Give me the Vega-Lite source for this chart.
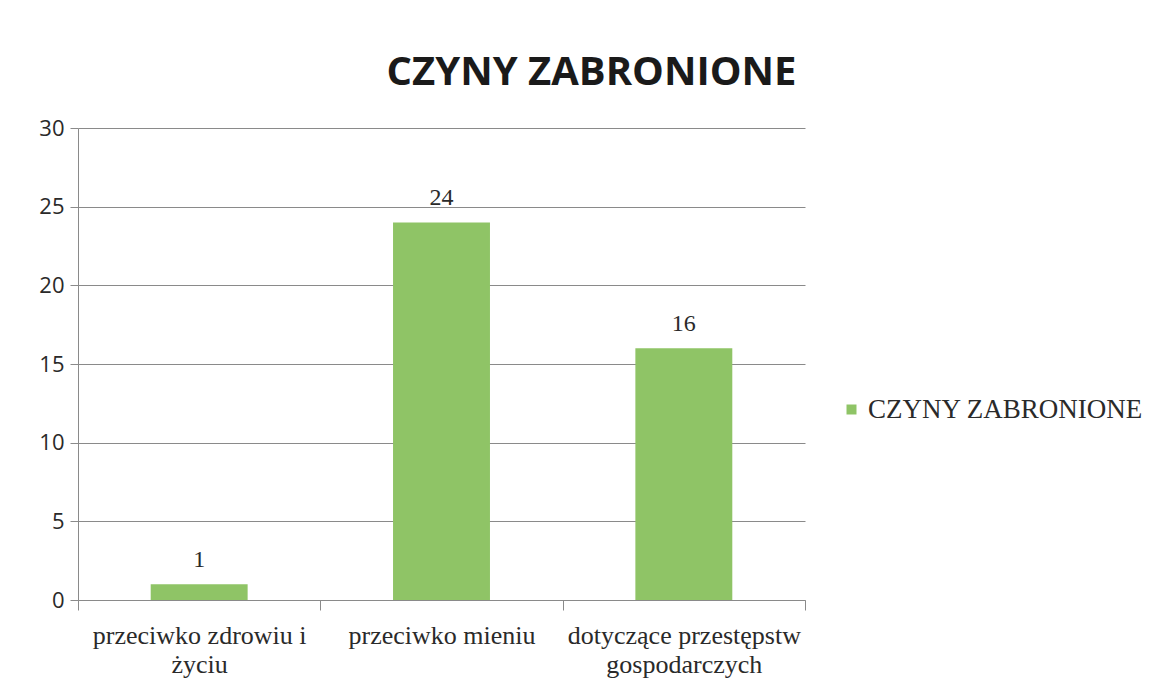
{
  "$schema": "https://vega.github.io/schema/vega-lite/v6.json",
  "autosize": {"type": "none"},
  "width": 727,
  "height": 472,
  "padding": {"left": 78, "top": 128, "right": 350, "bottom": 99},
  "background": "#ffffff",
  "title": {
    "text": "CZYNY ZABRONIONE",
    "font": "Open Sans",
    "fontSize": 40,
    "fontWeight": "bold",
    "color": "#1a1a1a",
    "anchor": "middle",
    "dx": 150,
    "offset": 24
  },
  "data": {
    "values": [
      {"kategoria": "przeciwko zdrowiu i|życiu", "seria": "CZYNY ZABRONIONE", "wartosc": 1},
      {"kategoria": "przeciwko mieniu", "seria": "CZYNY ZABRONIONE", "wartosc": 24},
      {"kategoria": "dotyczące przestępstw|gospodarczych", "seria": "CZYNY ZABRONIONE", "wartosc": 16}
    ]
  },
  "encoding": {
    "x": {
      "field": "kategoria",
      "type": "nominal",
      "sort": null,
      "title": null,
      "scale": {"paddingInner": 0, "paddingOuter": 0},
      "axis": {
        "labelExpr": "split(datum.label, '|')",
        "labelAngle": 0,
        "labelFont": "Liberation Serif",
        "labelFontSize": 26,
        "labelColor": "#2a2a2a",
        "labelLineHeight": 29,
        "labelPadding": 12,
        "labelLimit": 300,
        "domainColor": "#8a8a8a",
        "tickColor": "#8a8a8a",
        "tickSize": 10,
        "tickBand": "extent",
        "grid": false
      }
    },
    "y": {
      "field": "wartosc",
      "type": "quantitative",
      "title": null,
      "scale": {"domain": [0, 30]},
      "axis": {
        "values": [0, 5, 10, 15, 20, 25, 30],
        "labelFont": "Open Sans",
        "labelFontSize": 22,
        "labelColor": "#2a2a2a",
        "labelPadding": 6,
        "domainColor": "#8a8a8a",
        "tickColor": "#8a8a8a",
        "tickSize": 8,
        "grid": true,
        "gridColor": "#8a8a8a",
        "gridWidth": 1
      }
    }
  },
  "layer": [
    {
      "mark": {"type": "bar", "color": "#8fc466", "width": {"band": 0.4}},
      "encoding": {
        "color": {
          "field": "seria",
          "type": "nominal",
          "scale": {"range": ["#8fc466"]},
          "legend": {
            "title": null,
            "orient": "none",
            "legendX": 760,
            "legendY": 268,
            "symbolType": "square",
            "symbolSize": 100,
            "symbolStrokeWidth": 0,
            "labelFont": "Liberation Serif",
            "labelFontSize": 27,
            "labelColor": "#2a2a2a",
            "labelLimit": 400,
            "labelOffset": 3
          }
        }
      }
    },
    {
      "mark": {
        "type": "text",
        "baseline": "bottom",
        "dy": -12,
        "font": "Liberation Serif",
        "fontSize": 24,
        "color": "#2a2a2a"
      },
      "encoding": {"text": {"field": "wartosc", "type": "quantitative"}}
    }
  ],
  "config": {"view": {"stroke": null}}
}
